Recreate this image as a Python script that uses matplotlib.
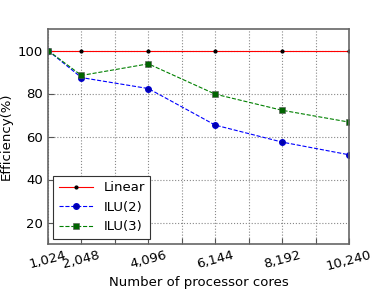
import matplotlib
matplotlib.use("Agg")
import matplotlib.pyplot as plt

# data
cores = [1024, 2048, 4096, 6144, 8192, 10240]
linear = [100, 100, 100, 100, 100, 100]
ilu2 = [100, 87.4, 82.3, 65.3, 57.4, 51.5]
ilu3 = [100, 88.4, 93.8, 79.7, 72.2, 66.7]
grid_ticks = [1024 * k for k in range(1, 11)]
tick_labels = ["1,024", "2,048", "", "4,096", "", "6,144", "", "8,192", "", "10,240"]

fig = plt.figure(figsize=(3.88, 2.91), dpi=100)
ax = fig.add_axes([48 / 388., 1 - 244 / 291., 301 / 388., 215 / 291.])

ax.plot(cores, linear, color="r", lw=0.8, marker=".", ms=4, mfc="k", mec="k", label="Linear")
ax.plot(cores, ilu2, color="b", lw=0.8, ls="--", marker="o", ms=4, mfc="#0000aa", mec="#0000cc", label="ILU(2)")
ax.plot(cores, ilu3, color="g", lw=0.8, ls="--", marker="s", ms=4, mfc="#006400", mec="#555555", mew=0.4, label="ILU(3)")

ax.set_xlim(1024, 10240)
ax.set_ylim(10, 110)
ax.set_xticks(grid_ticks)
ax.set_xticklabels(tick_labels, rotation=15, fontsize=9.5)
ax.set_yticks([20, 40, 60, 80, 100])
ax.tick_params(axis="y", labelsize=9.5)
ax.tick_params(direction="in", length=4, color="#555555")
ax.grid(True, ls=":", color="#888888", lw=0.8)
for s in ax.spines.values():
    s.set_color("#666666")
    s.set_linewidth(1.2)

ax.set_xlabel("Number of processor cores", fontsize=9.5, labelpad=2)
ax.set_ylabel("Efficiency(%)", fontsize=9.5, labelpad=4)

leg = ax.legend(loc="lower left", fontsize=9.5, fancybox=False, framealpha=1,
                edgecolor="#333333", borderaxespad=0.4, handlelength=2.6)
leg.get_frame().set_linewidth(0.8)

fig.savefig("out.png", dpi=100)
